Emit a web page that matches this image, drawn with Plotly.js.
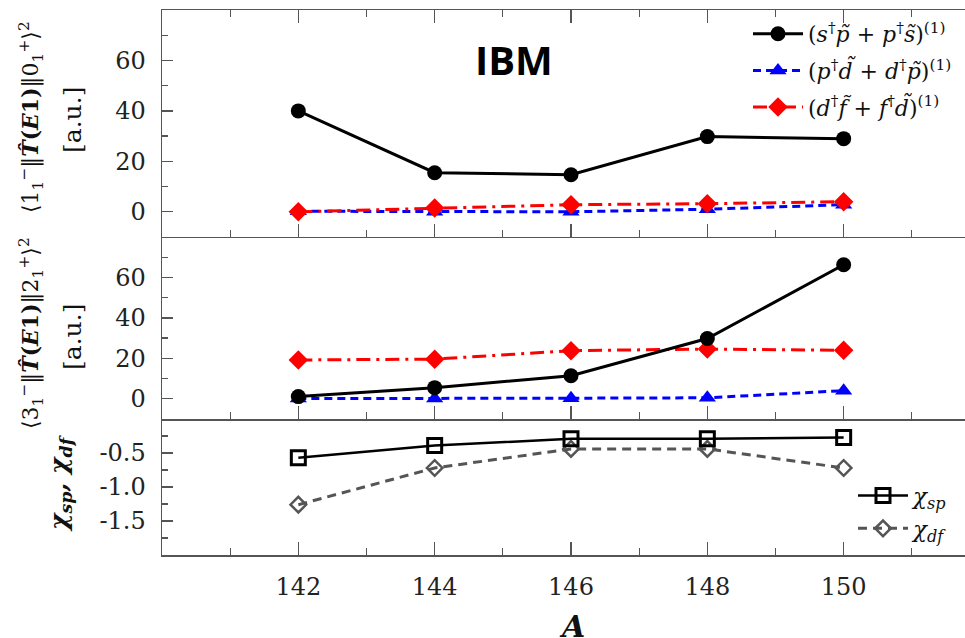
<!DOCTYPE html>
<html>
<head>
<meta charset="utf-8">
<script src="https://cdn.plot.ly/plotly-3.0.1.min.js"></script>
<style>html,body{margin:0;padding:0;background:#fff;overflow:hidden;}#chart{width:965px;height:638px;}</style>
</head>
<body>
<div id="chart"></div>
<script>
// ---- data ----
var massNumbers = [142, 144, 146, 148, 150];
var xTicks = [142, 144, 146, 148, 150];

// panel 1: <1- || T(E1) || 0+>^2
var top_sp = [40, 15.5, 14.7, 29.8, 29.0];
var top_pd = [0.2, 0.0, 0.0, 1.0, 2.8];
var top_df = [0.0, 1.5, 2.8, 3.2, 4.0];

// panel 2: <3- || T(E1) || 2+>^2
var mid_sp = [1.1, 5.5, 11.4, 29.8, 66.3];
var mid_pd = [0.1, 0.1, 0.3, 0.5, 4.0];
var mid_df = [19.2, 19.6, 23.8, 24.6, 24.0];

// panel 3: chi parameters
var chi_sp = [-0.57, -0.39, -0.29, -0.29, -0.27];
var chi_df = [-1.26, -0.72, -0.44, -0.44, -0.72];

var names = {
  sp: '(<i>s</i><sup>†</sup><i>p\u0303</i> + <i>p</i><sup>†</sup><i>s\u0303</i>)<sup>(1)</sup>',
  pd: '(<i>p</i><sup>†</sup><i>d\u0303</i> + <i>d</i><sup>†</sup><i>p\u0303</i>)<sup>(1)</sup>',
  df: '(<i>d</i><sup>†</sup><i>f\u0303</i> + <i>f</i><sup>†</sup><i>d\u0303</i>)<sup>(1)</sup>',
  csp: '<i>χ<sub>sp</sub></i>',
  cdf: '<i>χ<sub>df</sub></i>'
};

var serif = 'DejaVu Serif';
var axisCol = '#555555';

function spTrace(y, xa, ya, show) {
  return {x: massNumbers, y: y, xaxis: xa, yaxis: ya, mode: 'lines+markers', name: names.sp,
    showlegend: show, legendgroup: 'a',
    line: {color: '#000000', width: 3}, marker: {symbol: 'circle', size: 15, color: '#000000'}};
}
function pdTrace(y, xa, ya, show) {
  return {x: massNumbers, y: y, xaxis: xa, yaxis: ya, mode: 'lines+markers', name: names.pd,
    showlegend: show, legendgroup: 'b',
    line: {color: '#0000ff', width: 3, dash: '8px,5px'}, marker: {symbol: 'triangle-up', size: 15, color: '#0000ff'}};
}
function dfTrace(y, xa, ya, show) {
  return {x: massNumbers, y: y, xaxis: xa, yaxis: ya, mode: 'lines+markers', name: names.df,
    showlegend: show, legendgroup: 'c',
    line: {color: '#ff0000', width: 3, dash: '14px,6px,3px,6px'}, marker: {symbol: 'diamond', size: 15, color: '#ff0000'}};
}

var data = [
  spTrace(top_sp, 'x', 'y', true),
  pdTrace(top_pd, 'x', 'y', true),
  dfTrace(top_df, 'x', 'y', true),
  pdTrace(mid_pd, 'x2', 'y2', false),
  dfTrace(mid_df, 'x2', 'y2', false),
  spTrace(mid_sp, 'x2', 'y2', false),
  {x: massNumbers, y: chi_df, xaxis: 'x3', yaxis: 'y3', mode: 'lines+markers', name: names.cdf,
    legend: 'legend2', line: {color: '#555555', width: 3, dash: '9px,6px'},
    marker: {symbol: 'diamond-open', size: 12, color: '#555555', line: {width: 2.5, color: '#555555'}}},
  {x: massNumbers, y: chi_sp, xaxis: 'x3', yaxis: 'y3', mode: 'lines+markers', name: names.csp,
    legend: 'legend2', line: {color: '#000000', width: 2.5},
    marker: {symbol: 'square-open', size: 14, color: '#000000', line: {width: 3, color: '#000000'}}}
];

var xRange = [140, 151.78];
function xAxis(anchor, labels, mirror) {
  return {range: xRange, anchor: anchor, showline: true, linecolor: axisCol, linewidth: 1.5,
    mirror: mirror, ticks: 'inside', ticklen: 13, tickwidth: 1.3, tickcolor: axisCol,
    tickvals: xTicks, ticktext: xTicks.map(String), showticklabels: labels,
    tickfont: {family: serif, size: 24, color: '#222'}, showgrid: false, zeroline: false,
    minor: {dtick: 1, tick0: 140, ticks: 'inside', ticklen: 7, tickcolor: axisCol, tickwidth: 1.3, showgrid: false},
    ticklabelstandoff: 10, fixedrange: true};
}
function yAxis(domain, range, vals, text, minorDt) {
  return {domain: domain, range: range, anchor: 'x', showline: true, linecolor: axisCol, linewidth: 1.5,
    ticks: 'inside', ticklen: 11, tickwidth: 1.3, tickcolor: axisCol, tickvals: vals, ticktext: text,
    tickfont: {family: serif, size: 24, color: '#222'}, showgrid: false, zeroline: false,
    minor: {dtick: minorDt, tick0: 0, ticks: 'inside', ticklen: 6, tickcolor: axisCol, tickwidth: 1.3, showgrid: false},
    ticklabelstandoff: 10, fixedrange: true};
}

var y1 = yAxis([0.5835, 1], [-10, 80], [0, 20, 40, 60], ['0', '20', '40', '60'], 10);
var y2 = yAxis([0.2495, 0.5835], [-10, 80], [0, 20, 40, 60], ['0', '20', '40', '60'], 10);
var y3 = yAxis([0, 0.2495], [-2, 0], [-1.5, -1, -0.5], ['-1.5', '-1.0', '-0.5'], 0.25);
y2.anchor = 'x2'; y3.anchor = 'x3';

var ann = [];
function vtext(txt, xpx, ypx, size) {
  ann.push({text: txt, xref: 'paper', yref: 'paper', x: 0, y: 1 - (ypx - 10) / 545,
    xshift: xpx - 162, xanchor: 'center', yanchor: 'middle', textangle: -90, showarrow: false,
    font: {family: serif, size: size, color: '#111'}});
}
vtext('⟨1<sub>1</sub><sup>−</sup>‖<b><i>T\u0302</i>(<i>E</i>1)</b>‖0<sub>1</sub><sup>+</sup>⟩<sup>2</sup>', 31, 117, 22);
vtext('[a.u.]', 72, 120, 25);
vtext('⟨3<sub>1</sub><sup>−</sup>‖<b><i>T\u0302</i>(<i>E</i>1)</b>‖2<sub>1</sub><sup>+</sup>⟩<sup>2</sup>', 31, 333, 22);
vtext('[a.u.]', 72, 337, 25);
vtext('<b><i>χ<sub>sp</sub>, χ<sub>df</sub></i></b>', 60, 483, 25);

ann.push({text: '<b><i>A</i></b>', xref: 'paper', yref: 'paper', x: 0, y: 0, xshift: 572 - 162, yshift: -(626 - 555),
  xanchor: 'center', yanchor: 'middle', showarrow: false, font: {family: serif, size: 30, color: '#111'}});
ann.push({text: '<b>IBM</b>', xref: 'paper', yref: 'paper', x: 0, y: 1, xshift: 514 - 162, yshift: -(59 - 10),
  xanchor: 'center', yanchor: 'middle', showarrow: false, font: {family: 'Open Sans', size: 40, color: '#000'}});

var layout = {
  width: 965, height: 638,
  margin: {l: 162, r: 0, t: 10, b: 83},
  paper_bgcolor: '#ffffff', plot_bgcolor: '#ffffff',
  font: {family: serif},
  xaxis: xAxis('y', false, 'ticks'),
  xaxis2: xAxis('y2', false, false),
  xaxis3: xAxis('y3', true, false),
  yaxis: y1, yaxis2: y2, yaxis3: y3,
  showlegend: true,
  legend: {x: (748 - 162) / 803, y: 1 - (13 - 10) / 545, xanchor: 'left', yanchor: 'top',
    bgcolor: 'rgba(0,0,0,0)', font: {family: serif, size: 22, color: '#111'},
    traceorder: 'grouped', tracegroupgap: 5, itemwidth: 50},
  legend2: {x: (853 - 162) / 803, y: (555 - 474) / 545, xanchor: 'left', yanchor: 'top',
    bgcolor: 'rgba(0,0,0,0)', font: {family: serif, size: 23, color: '#111'},
    traceorder: 'reversed', itemwidth: 50},
  annotations: ann
};

Plotly.newPlot('chart', data, layout, {staticPlot: true, displayModeBar: false});
</script>
</body>
</html>
